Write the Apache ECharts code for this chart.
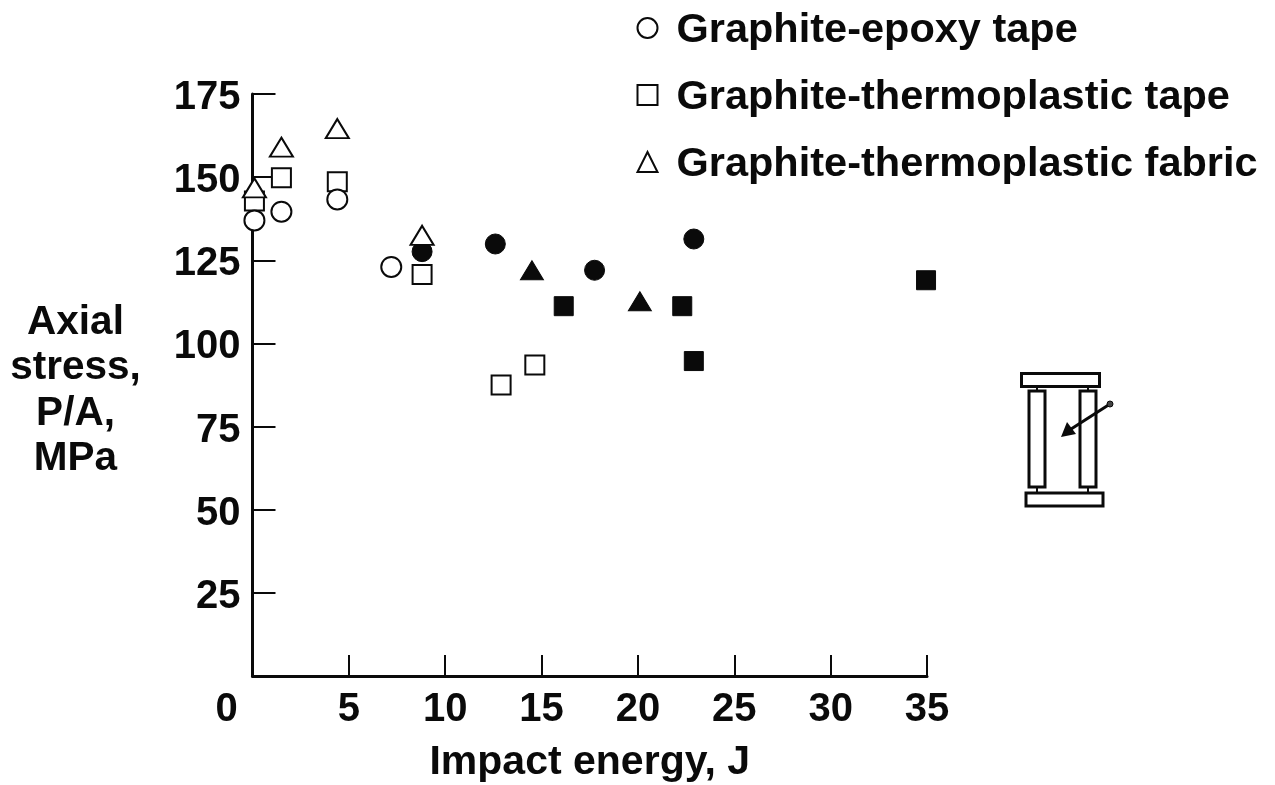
<!DOCTYPE html>
<html><head><meta charset="utf-8">
<style>html,body{margin:0;padding:0;background:#fff}#c{width:1275px;height:785px}</style>
<script src="https://cdn.jsdelivr.net/npm/echarts@6/dist/echarts.min.js"></script>
</head><body><div id="c"></div>
<script>
const seriesNames = ['Graphite-epoxy tape','Graphite-thermoplastic tape','Graphite-thermoplastic fabric'];
const xTicks = [0,5,10,15,20,25,30,35];
const yTicks = [25,50,75,100,125,150,175];
const yAxisLines = ['Axial','stress,','P/A,','MPa'];
const epoxyOpen = [[0.1,137],[1.5,139.6],[4.4,143.3],[7.2,123]];
const epoxyFilled = [[8.8,127.6],[12.6,129.9],[17.75,122],[22.9,131.4]];
const tapeOpen = [[0.1,142.8],[1.5,149.8],[4.4,148.6],[8.8,120.7],[12.9,87.5],[14.65,93.5]];
const tapeFilled = [[16.15,111.2],[22.3,111.2],[22.9,94.7],[34.95,119]];
const fabricOpen = [[0.1,146.8],[1.5,159],[4.4,164.6],[8.8,132.5]];
const fabricFilled = [[14.5,122],[20.1,112.7]];

const ink = '#0a0a0a';
const font = '"Liberation Sans", Arial, sans-serif';
const open = {color:'#fff',borderColor:ink,borderWidth:2,opacity:1};
const solid = {color:ink,borderColor:ink,borderWidth:1,opacity:1};
function s(name,data,symbol,size,style,z){
  return {name,type:'scatter',data,symbol,symbolSize:size,itemStyle:style,z,silent:true,clip:false};
}
const chart = echarts.init(document.getElementById('c'),null,{renderer:'canvas'});
const R = (x,y,w,h,lw)=>({type:'rect',shape:{x,y,width:w,height:h},style:{fill:'#fff',stroke:ink,lineWidth:lw||3},silent:true});
const L = (x1,y1,x2,y2,lw)=>({type:'line',shape:{x1,y1,x2,y2},style:{stroke:ink,lineWidth:lw||2},silent:true});
const bold = size=>({fontFamily:font,fontWeight:'bold',fontSize:size,color:ink});
chart.setOption({
  animation:false,
  backgroundColor:'#fff',
  grid:{left:252.5,right:348,top:94,bottom:109,containLabel:false,outerBoundsMode:'none'},
  legend:{
    data:seriesNames.map(name=>({name})),
    orient:'vertical',left:636.5,top:10,padding:0,itemWidth:20,itemHeight:20,itemGap:25,
    selectedMode:false,
    formatter:n=>`{a|${n}}`,
    textStyle:{...bold(41.5),rich:{a:{...bold(41.5),padding:[6,0,0,14]}}}
  },
  xAxis:{
    type:'value',min:0,max:35,interval:5,
    name:'Impact energy, J',nameLocation:'middle',nameGap:66,
    nameTextStyle:bold(41),
    splitLine:{show:false},
    axisLine:{lineStyle:{color:ink,width:3}},
    axisTick:{inside:true,length:21,lineStyle:{color:ink,width:2}},
    axisLabel:{
      margin:14,...bold(40),
      customValues:xTicks,
      formatter:v=>v===0?'{z|0}':String(v),
      rich:{z:{...bold(40),padding:[0,52,0,0]}},
      showMinLabel:true,showMaxLabel:true
    }
  },
  yAxis:{
    type:'value',min:0,max:175,interval:25,
    name:'{sp| }\n'+yAxisLines.map(t=>`{n|${t}}`).join('\n'),
    nameLocation:'middle',nameGap:177,nameRotate:0,
    nameTextStyle:{...bold(40.5),align:'center',verticalAlign:'middle',
      rich:{sp:{fontSize:8,lineHeight:12,align:'center'},n:{...bold(40.5),lineHeight:45.5,align:'center'}}},
    splitLine:{show:false},
    axisLine:{show:true,lineStyle:{color:ink,width:3}},
    axisTick:{show:true,inside:true,length:23,lineStyle:{color:ink,width:2},customValues:yTicks},
    axisLabel:{margin:12,...bold(40),customValues:yTicks,
      formatter:v=>`{a|${v}}`,rich:{a:{...bold(40),padding:[8,0,0,0]}}}
  },
  series:[
    s(seriesNames[0],epoxyOpen,'circle',20,open,5),
    s(seriesNames[1],tapeOpen,'rect',19,open,4),
    s(seriesNames[2],fabricOpen,'triangle',[23,19],open,6),
    s('Graphite-epoxy tape, filled',epoxyFilled,'circle',20,solid,5),
    s('Graphite-thermoplastic tape, filled',tapeFilled,'rect',19,solid,5),
    s('Graphite-thermoplastic fabric, filled',fabricFilled,'triangle',[23,19],solid,5)
  ],
  graphic:{elements:[
    L(1037,386,1037,392),L(1088,386,1088,392),L(1037,486,1037,493),L(1088,486,1088,493),
    R(1021.5,373.5,78,13),R(1029,391,16,96),R(1080,391,16,96),R(1026,493,77,13),
    L(1110,404,1068,431,3),
    {type:'polygon',shape:{points:[[1061,437],[1067,422],[1076,434]]},style:{fill:ink},silent:true},
    {type:'circle',shape:{cx:1110,cy:404,r:3},style:{fill:'#444',stroke:ink,lineWidth:1},silent:true}
  ]}
});
</script></body></html>
